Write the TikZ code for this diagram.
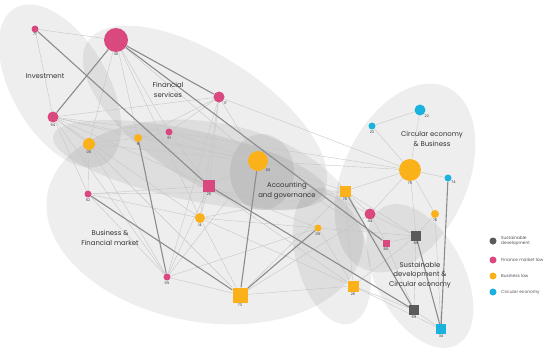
\documentclass[tikz,border=0pt]{standalone}
\usepackage{fontspec}
\setmainfont{Poppins}
\definecolor{fmpink}{HTML}{D9487F}
\definecolor{blorange}{HTML}{FBB11A}
\definecolor{sdgrey}{HTML}{5A5A5A}
\definecolor{cecyan}{HTML}{1BB3DE}
\definecolor{thinedge}{HTML}{C6C6C6}
\definecolor{thickedge}{HTML}{8C8C8C}
\definecolor{labgrey}{HTML}{333333}
\pgfdeclarelayer{bg}
\pgfdeclarelayer{edges}
\pgfsetlayers{bg,edges,main}
\tikzset{
  cluster/.style={fill=black, fill opacity=0.065},
  numlab/.style={font=\fontsize{3.6}{4}\selectfont, text=labgrey, inner sep=0.5pt},
  pc/.style={circle, fill=fmpink, inner sep=0pt, minimum size=#1},
  oc/.style={circle, fill=blorange, inner sep=0pt, minimum size=#1},
  cc/.style={circle, fill=cecyan, inner sep=0pt, minimum size=#1},
  ps/.style={rectangle, fill=fmpink, inner sep=0pt, minimum size=#1},
  os/.style={rectangle, fill=blorange, inner sep=0pt, minimum size=#1},
  gs/.style={rectangle, fill=sdgrey, inner sep=0pt, minimum size=#1},
  cs/.style={rectangle, fill=cecyan, inner sep=0pt, minimum size=#1},
  thin edge/.style={draw=thinedge, line width=0.4pt},
  thick edge/.style={draw=thickedge, line width=1.1pt},
  cluslab/.style={font=\fontsize{6.9}{9.6}\selectfont, text=labgrey, align=center, inner sep=0pt},
  legtext/.style={font=\fontsize{4.3}{5.6}\selectfont, text=labgrey!85, align=left, anchor=west, inner sep=0pt},
  legdot/.style={circle, inner sep=0pt, minimum size=7pt, fill=#1},
}
\begin{document}
\begin{tikzpicture}[x=1pt,y=-1pt]
\useasboundingbox (0,0) rectangle (550,356);

% cluster ellipses
\begin{pgfonlayer}{bg}
\fill[cluster, rotate around={-60:(60,86)}] (60,86) ellipse (90 and 48);
\fill[cluster, rotate around={-33:(205,118)}] (205,118) ellipse (140 and 62);
\fill[cluster, rotate around={-10:(205,222)}] (205,222) ellipse (160 and 100);
\fill[cluster, rotate around={-12:(190,165)}] (190,165) ellipse (140 and 35);
\fill[cluster] (262,172) ellipse (32 and 38);
\fill[cluster, rotate around={-75:(332,256)}] (332,256) ellipse (70 and 36);
\fill[cluster, rotate around={65:(405,178)}] (405,178) ellipse (100 and 62);
\fill[cluster, rotate around={-62:(420,276)}] (420,276) ellipse (78 and 44);
\end{pgfonlayer}

% nodes
\node[pc=7pt, label={[numlab]below:77}] (n77) at (35,29) {};
\node[pc=24pt, label={[numlab]below:30}] (n30) at (116,40) {};
\node[pc=11pt, label={[numlab]below right:17}] (n17) at (219,97) {};
\node[pc=11pt, label={[numlab]below:54}] (n54) at (53,117) {};
\node[oc=12pt, label={[numlab]below:05}] (n05a) at (89,144) {};
\node[oc=8pt, label={[numlab]below:9}] (n9) at (138,138) {};
\node[pc=7pt, label={[numlab]below:91}] (n91) at (169,132) {};
\node[oc=20pt, label={[numlab]below right:63}] (n63) at (258,161) {};
\node[ps=12pt, label={[numlab]below:25}] (n25) at (209,186) {};
\node[pc=7pt, label={[numlab]below:52}] (n52) at (88,194) {};
\node[oc=10pt, label={[numlab]below:14}] (n14) at (200,218) {};
\node[pc=7pt, label={[numlab]below:55}] (n55) at (167,277) {};
\node[os=15pt, label={[numlab]below:73}] (n73) at (240,295) {};
\node[os=11pt, label={[numlab]below:70}] (n70) at (345,191) {};
\node[pc=11pt, label={[numlab]below:44}] (n44) at (370,214) {};
\node[oc=7pt, label={[numlab]below:05}] (n05b) at (318,228) {};
\node[ps=7pt, label={[numlab]below:80}] (n80) at (386,243) {};
\node[gs=10pt, label={[numlab]below:89}] (n89) at (416,236) {};
\node[os=11pt, label={[numlab]below:26}] (n26) at (353,286) {};
\node[gs=10pt, label={[numlab]below:69}] (n69) at (414,310) {};
\node[cs=10pt, label={[numlab]below:34}] (n34) at (441,329) {};
\node[oc=22pt, label={[numlab]below:75}] (n75) at (410,170) {};
\node[cc=7pt, label={[numlab]below right:74}] (n74) at (448,178) {};
\node[oc=8pt, label={[numlab]below:76}] (n76) at (435,214) {};
\node[cc=11pt, label={[numlab]below right:22}] (n22) at (420,110) {};
\node[cc=7pt, label={[numlab]below:23}] (n23) at (372,126) {};

% edges
\begin{pgfonlayer}{edges}
\foreach \a/\b in {n77/n30, n77/n54, n30/n91, n30/n9, n30/n05a, n30/n63, n30/n14,
  n54/n05a, n54/n9, n54/n91, n54/n63, n54/n25, n54/n52, n54/n55, n54/n14, n54/n17,
  n05a/n9, n05a/n63, n05a/n52, n05a/n73, n05a/n55, n9/n91, n9/n63, n9/n17,
  n91/n17, n91/n63, n91/n25, n91/n75, n17/n25, n17/n63, n17/n55, n17/n14, n17/n75,
  n63/n25, n63/n70, n63/n44, n63/n75, n63/n80, n25/n14, n25/n55, n25/n52, n25/n26,
  n25/n05b, n52/n14, n52/n70, n14/n73, n14/n05b, n14/n26, n14/n70, n55/n73,
  n55/n05b, n55/n63, n73/n26, n73/n70, n73/n44, n70/n44, n70/n89, n70/n26,
  n44/n80, n44/n89, n44/n75, n05b/n26, n05b/n89, n26/n69, n26/n89, n80/n89,
  n80/n69, n89/n75, n89/n76, n89/n69, n75/n22, n75/n23, n75/n74, n75/n76,
  n75/n70, n22/n23, n76/n34, n69/n34, n26/n34, n52/n55}
  \draw[thin edge] (\a) -- (\b);
\foreach \a/\b in {n30/n54, n30/n17, n30/n80, n77/n25, n25/n69, n70/n69,
  n9/n55, n52/n73, n63/n73, n73/n05b, n89/n34, n74/n34}
  \draw[thick edge] (\a) -- (\b);
\end{pgfonlayer}

% cluster labels
\node[cluslab] (lInv) at (45,76) {Investment};
\node[cluslab] (lFS) at (168,90) {Financial\\services};
\node[cluslab] (lCEB) at (432,139) {Circular economy\\\& Business};
\node[cluslab] (lAG) at (287,191) {Accounting\\and governance};
\node[cluslab] (lBF) at (110,238) {Business \&\\Financial market};
\node[cluslab] (lSD) at (420,275) {Sustainable\\development \&\\Circular economy};

% legend
\node[legdot=sdgrey] (d1) at (493,241) {};
\node[legdot=fmpink] (d2) at (493,260) {};
\node[legdot=blorange] (d3) at (493,276) {};
\node[legdot=cecyan] (d4) at (493,292) {};
\node[legtext] (t1) at (501,241) {Sustainable\\development};
\node[legtext] (t2) at (501,260) {Finance market law};
\node[legtext] (t3) at (501,276) {Business law};
\node[legtext] (t4) at (501,292) {Circular economy};
\end{tikzpicture}
\end{document}
